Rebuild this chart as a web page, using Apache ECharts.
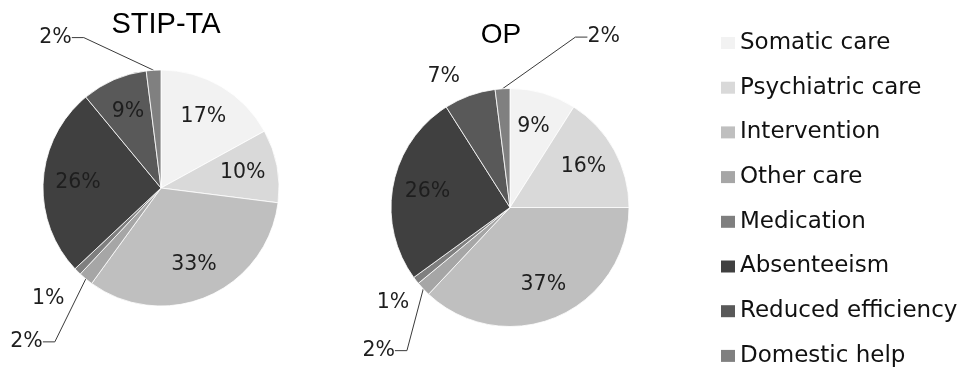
<!DOCTYPE html>
<html><head><meta charset="utf-8">
<script src="https://cdn.jsdelivr.net/npm/echarts@6/dist/echarts.min.js"></script>
<style>html,body{margin:0;padding:0;background:#fff}#c{width:973px;height:374px}</style>
</head><body><div id="c"></div>
<script>
// ---- data ----
const categories = ['Somatic care','Psychiatric care','Intervention','Other care','Medication','Absenteeism','Reduced efficiency','Domestic help'];
const stipValues = [17, 10, 33, 2, 1, 26, 9, 2];
const opValues   = [9, 16, 37, 2, 1, 26, 7, 2];
const pieTitles  = ['STIP-TA', 'OP'];

// ---- style ----
const sliceColors = ['#f2f2f2','#d9d9d9','#bfbfbf','#a6a6a6','#7f7f7f','#404040','#595959','#808080'];
const labelFont = 'DejaVu Sans';
const pieStyles = [
  { center: [161, 188], r: 118, inside: [0,1,2,5,6],
    outer: { 3: {ref:'bl', dx:-37, dy:58, align:'right', line:true, pad:[0,0,14,40]},
             4: {ref:'bl', dx:-10, dy:24, align:'right', line:false, pad:[0,0,0,0]},
             7: {ref:'tl', dx:-74, dy:-32, align:'right', line:true, pad:[0,0,14,0]} },
    titleX: 166, titleTop: 10, titleSize: 29 },
  { center: [510, 207.5], r: 119, inside: [0,1,2,5],
    outer: { 3: {ref:'bl', dx:-23, dy:56, align:'right', line:true, pad:[0,0,12,40]},
             4: {ref:'bl', dx:-4, dy:19, align:'right', line:false, pad:[0,0,0,0]},
             6: {ref:'tl', dx:-2, dy:-12, align:'center', line:false, pad:[0,0,0,0]},
             7: {ref:'tr', dx:77, dy:-51, align:'left', line:true, pad:[0,40,14,0]} },
    titleX: 501, titleTop: 21, titleSize: 28 }
];
const valueSets = [stipValues, opValues];

const labelBase = { fontFamily: labelFont, fontSize: 20.5, color: '#1e1e1e', formatter: '{c}%' };

const series = [];
const titles = [];
pieStyles.forEach((ps, k) => {
  const values = valueSets[k];
  titles.push({ text: pieTitles[k], left: ps.titleX, top: ps.titleTop, textAlign: 'center', padding: 0,
    textStyle: { fontFamily: 'Liberation Sans', fontSize: ps.titleSize, fontWeight: 'normal', color: '#000' } });
  series.push({
    type: 'pie', center: ps.center, radius: ps.r, startAngle: 90, clockwise: true,
    avoidLabelOverlap: false, animation: false,
    itemStyle: { borderColor: '#ffffff', borderWidth: 0.8 },
    label: Object.assign({ show: false, position: 'outside' }, labelBase),
    labelLine: { show: false, length: 10, length2: 12, lineStyle: { color: '#3a3a3a', width: 1 } },
    emphasis: { disabled: true },
    data: categories.map((n, i) => {
      const o = ps.outer[i];
      const d = { name: n, value: values[i], itemStyle: { color: sliceColors[i] } };
      if (o) {
        d.label = { show: true, padding: o.pad, backgroundColor: 'rgba(255,255,255,0)' };
        d.labelLine = { show: o.line };
      }
      return d;
    }),
    labelLayout: function (p) {
      const o = ps.outer[p.dataIndex];
      if (!o) return {};
      const r = p.rect;
      const bx = o.ref === 'tr' ? r.x + r.width : r.x;
      const by = o.ref === 'bl' ? r.y + r.height : r.y;
      return { x: bx + o.dx, y: by + o.dy, align: o.align, verticalAlign: 'middle' };
    }
  });
  series.push({
    type: 'pie', center: ps.center, radius: [ps.r * 0.36, ps.r], startAngle: 90, clockwise: true,
    silent: true, animation: false, avoidLabelOverlap: false,
    itemStyle: { color: 'rgba(0,0,0,0)' },
    label: Object.assign({ show: false, position: 'inside' }, labelBase),
    labelLine: { show: false },
    emphasis: { disabled: true },
    data: categories.map((n, i) => {
      const d = { name: n, value: values[i] };
      if (ps.inside.indexOf(i) >= 0) d.label = { show: true };
      return d;
    })
  });
});

const chart = echarts.init(document.getElementById('c'), null, { renderer: 'canvas' });
chart.setOption({
  backgroundColor: '#ffffff',
  animation: false,
  title: titles,
  legend: {
    orient: 'vertical', left: 721, top: 31, itemWidth: 14, itemHeight: 12, itemGap: 20.7,
    icon: 'rect', selectedMode: false, padding: 0,
    itemStyle: { borderWidth: 0 },
    textStyle: { fontFamily: 'DejaVu Sans', fontSize: 23, lineHeight: 24, color: '#111' },
    data: categories
  },
  series: series
});
</script></body></html>
